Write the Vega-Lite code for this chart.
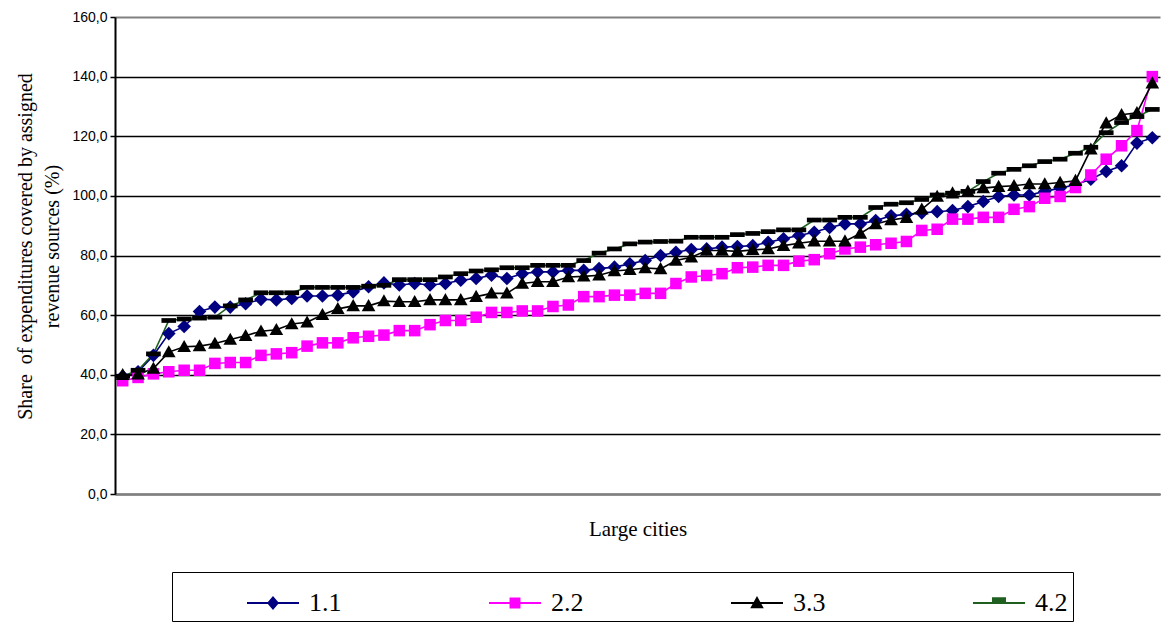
{
"$schema": "https://vega.github.io/schema/vega-lite/v6.json",
"width": 1045, "height": 477,
"autosize": {"type": "none"},
"padding": {"left": 115, "top": 17, "right": 1, "bottom": 129},
"background": "white",
"config": {"view": {"stroke": null}},
"data": {"values": [
{"c":1,"s":"1.1","v":39.5},{"c":2,"s":"1.1","v":41.0},{"c":3,"s":"1.1","v":46.5},{"c":4,"s":"1.1","v":53.8},{"c":5,"s":"1.1","v":56.2},{"c":6,"s":"1.1","v":61.2},{"c":7,"s":"1.1","v":62.7},{"c":8,"s":"1.1","v":62.7},{"c":9,"s":"1.1","v":63.8},{"c":10,"s":"1.1","v":65.3},
{"c":11,"s":"1.1","v":65.1},{"c":12,"s":"1.1","v":65.6},{"c":13,"s":"1.1","v":66.4},{"c":14,"s":"1.1","v":66.4},{"c":15,"s":"1.1","v":66.7},{"c":16,"s":"1.1","v":67.8},{"c":17,"s":"1.1","v":69.5},{"c":18,"s":"1.1","v":70.8},{"c":19,"s":"1.1","v":70.1},{"c":20,"s":"1.1","v":70.6},
{"c":21,"s":"1.1","v":70.1},{"c":22,"s":"1.1","v":70.6},{"c":23,"s":"1.1","v":71.7},{"c":24,"s":"1.1","v":72.3},{"c":25,"s":"1.1","v":73.4},{"c":26,"s":"1.1","v":72.3},{"c":27,"s":"1.1","v":73.9},{"c":28,"s":"1.1","v":74.5},{"c":29,"s":"1.1","v":74.5},{"c":30,"s":"1.1","v":75.0},
{"c":31,"s":"1.1","v":75.0},{"c":32,"s":"1.1","v":75.6},{"c":33,"s":"1.1","v":76.1},{"c":34,"s":"1.1","v":77.2},{"c":35,"s":"1.1","v":78.3},{"c":36,"s":"1.1","v":80.0},{"c":37,"s":"1.1","v":81.1},{"c":38,"s":"1.1","v":82.0},{"c":39,"s":"1.1","v":82.2},{"c":40,"s":"1.1","v":82.8},
{"c":41,"s":"1.1","v":83.0},{"c":42,"s":"1.1","v":83.3},{"c":43,"s":"1.1","v":84.4},{"c":44,"s":"1.1","v":85.6},{"c":45,"s":"1.1","v":86.7},{"c":46,"s":"1.1","v":87.8},{"c":47,"s":"1.1","v":89.4},{"c":48,"s":"1.1","v":90.6},{"c":49,"s":"1.1","v":90.6},{"c":50,"s":"1.1","v":91.7},
{"c":51,"s":"1.1","v":93.3},{"c":52,"s":"1.1","v":93.8},{"c":53,"s":"1.1","v":94.3},{"c":54,"s":"1.1","v":94.7},{"c":55,"s":"1.1","v":95.1},{"c":56,"s":"1.1","v":96.4},{"c":57,"s":"1.1","v":98.1},{"c":58,"s":"1.1","v":99.8},{"c":59,"s":"1.1","v":100.3},{"c":60,"s":"1.1","v":100.3},
{"c":61,"s":"1.1","v":101.5},{"c":62,"s":"1.1","v":102.6},{"c":63,"s":"1.1","v":103.7},{"c":64,"s":"1.1","v":105.6},{"c":65,"s":"1.1","v":108.2},{"c":66,"s":"1.1","v":110.1},{"c":67,"s":"1.1","v":117.7},{"c":68,"s":"1.1","v":119.5},
{"c":1,"s":"2.2","v":38.0},{"c":2,"s":"2.2","v":39.1},{"c":3,"s":"2.2","v":40.3},{"c":4,"s":"2.2","v":41.0},{"c":5,"s":"2.2","v":41.5},{"c":6,"s":"2.2","v":41.5},{"c":7,"s":"2.2","v":43.8},{"c":8,"s":"2.2","v":44.1},{"c":9,"s":"2.2","v":44.1},{"c":10,"s":"2.2","v":46.5},
{"c":11,"s":"2.2","v":47.0},{"c":12,"s":"2.2","v":47.4},{"c":13,"s":"2.2","v":49.6},{"c":14,"s":"2.2","v":50.7},{"c":15,"s":"2.2","v":50.7},{"c":16,"s":"2.2","v":52.4},{"c":17,"s":"2.2","v":52.9},{"c":18,"s":"2.2","v":53.3},{"c":19,"s":"2.2","v":54.8},{"c":20,"s":"2.2","v":54.8},
{"c":21,"s":"2.2","v":56.8},{"c":22,"s":"2.2","v":58.2},{"c":23,"s":"2.2","v":58.2},{"c":24,"s":"2.2","v":59.3},{"c":25,"s":"2.2","v":60.9},{"c":26,"s":"2.2","v":60.9},{"c":27,"s":"2.2","v":61.4},{"c":28,"s":"2.2","v":61.4},{"c":29,"s":"2.2","v":62.9},{"c":30,"s":"2.2","v":63.4},
{"c":31,"s":"2.2","v":66.2},{"c":32,"s":"2.2","v":66.2},{"c":33,"s":"2.2","v":66.7},{"c":34,"s":"2.2","v":66.7},{"c":35,"s":"2.2","v":67.3},{"c":36,"s":"2.2","v":67.3},{"c":37,"s":"2.2","v":70.6},{"c":38,"s":"2.2","v":72.8},{"c":39,"s":"2.2","v":73.3},{"c":40,"s":"2.2","v":73.9},
{"c":41,"s":"2.2","v":75.9},{"c":42,"s":"2.2","v":76.1},{"c":43,"s":"2.2","v":76.7},{"c":44,"s":"2.2","v":76.7},{"c":45,"s":"2.2","v":78.1},{"c":46,"s":"2.2","v":78.6},{"c":47,"s":"2.2","v":80.6},{"c":48,"s":"2.2","v":82.2},{"c":49,"s":"2.2","v":82.8},{"c":50,"s":"2.2","v":83.6},
{"c":51,"s":"2.2","v":84.1},{"c":52,"s":"2.2","v":84.7},{"c":53,"s":"2.2","v":88.4},{"c":54,"s":"2.2","v":88.8},{"c":55,"s":"2.2","v":92.2},{"c":56,"s":"2.2","v":92.2},{"c":57,"s":"2.2","v":92.8},{"c":58,"s":"2.2","v":92.8},{"c":59,"s":"2.2","v":95.5},{"c":60,"s":"2.2","v":96.4},
{"c":61,"s":"2.2","v":99.2},{"c":62,"s":"2.2","v":99.8},{"c":63,"s":"2.2","v":102.8},{"c":64,"s":"2.2","v":107.0},{"c":65,"s":"2.2","v":112.3},{"c":66,"s":"2.2","v":116.8},{"c":67,"s":"2.2","v":121.9},{"c":68,"s":"2.2","v":140.0},
{"c":1,"s":"3.3","v":40.0},{"c":2,"s":"3.3","v":40.2},{"c":3,"s":"3.3","v":42.1},{"c":4,"s":"3.3","v":47.6},{"c":5,"s":"3.3","v":49.4},{"c":6,"s":"3.3","v":49.6},{"c":7,"s":"3.3","v":50.5},{"c":8,"s":"3.3","v":51.8},{"c":9,"s":"3.3","v":53.1},{"c":10,"s":"3.3","v":54.6},
{"c":11,"s":"3.3","v":55.1},{"c":12,"s":"3.3","v":57.0},{"c":13,"s":"3.3","v":57.6},{"c":14,"s":"3.3","v":60.1},{"c":15,"s":"3.3","v":62.1},{"c":16,"s":"3.3","v":63.1},{"c":17,"s":"3.3","v":63.1},{"c":18,"s":"3.3","v":64.7},{"c":19,"s":"3.3","v":64.5},{"c":20,"s":"3.3","v":64.5},
{"c":21,"s":"3.3","v":65.1},{"c":22,"s":"3.3","v":65.1},{"c":23,"s":"3.3","v":65.1},{"c":24,"s":"3.3","v":66.2},{"c":25,"s":"3.3","v":67.3},{"c":26,"s":"3.3","v":67.3},{"c":27,"s":"3.3","v":70.6},{"c":28,"s":"3.3","v":71.2},{"c":29,"s":"3.3","v":71.2},{"c":30,"s":"3.3","v":72.8},
{"c":31,"s":"3.3","v":73.0},{"c":32,"s":"3.3","v":73.4},{"c":33,"s":"3.3","v":74.8},{"c":34,"s":"3.3","v":75.2},{"c":35,"s":"3.3","v":75.8},{"c":36,"s":"3.3","v":75.5},{"c":37,"s":"3.3","v":78.3},{"c":38,"s":"3.3","v":79.4},{"c":39,"s":"3.3","v":81.7},{"c":40,"s":"3.3","v":81.7},
{"c":41,"s":"3.3","v":81.4},{"c":42,"s":"3.3","v":81.9},{"c":43,"s":"3.3","v":82.2},{"c":44,"s":"3.3","v":83.3},{"c":45,"s":"3.3","v":84.1},{"c":46,"s":"3.3","v":84.8},{"c":47,"s":"3.3","v":84.8},{"c":48,"s":"3.3","v":84.8},{"c":49,"s":"3.3","v":87.4},{"c":50,"s":"3.3","v":90.6},
{"c":51,"s":"3.3","v":91.9},{"c":52,"s":"3.3","v":92.7},{"c":53,"s":"3.3","v":95.5},{"c":54,"s":"3.3","v":99.8},{"c":55,"s":"3.3","v":100.9},{"c":56,"s":"3.3","v":101.5},{"c":57,"s":"3.3","v":102.6},{"c":58,"s":"3.3","v":103.1},{"c":59,"s":"3.3","v":103.4},{"c":60,"s":"3.3","v":104.0},
{"c":61,"s":"3.3","v":104.0},{"c":62,"s":"3.3","v":104.5},{"c":63,"s":"3.3","v":105.1},{"c":64,"s":"3.3","v":115.6},{"c":65,"s":"3.3","v":124.4},{"c":66,"s":"3.3","v":127.2},{"c":67,"s":"3.3","v":127.9},{"c":68,"s":"3.3","v":137.8},
{"c":1,"s":"4.2","v":39.5},{"c":2,"s":"4.2","v":41.5},{"c":3,"s":"4.2","v":47.0},{"c":4,"s":"4.2","v":58.2},{"c":5,"s":"4.2","v":58.7},{"c":6,"s":"4.2","v":59.0},{"c":7,"s":"4.2","v":59.3},{"c":8,"s":"4.2","v":63.1},{"c":9,"s":"4.2","v":65.1},{"c":10,"s":"4.2","v":67.5},
{"c":11,"s":"4.2","v":67.5},{"c":12,"s":"4.2","v":67.5},{"c":13,"s":"4.2","v":69.3},{"c":14,"s":"4.2","v":69.3},{"c":15,"s":"4.2","v":69.3},{"c":16,"s":"4.2","v":69.3},{"c":17,"s":"4.2","v":69.7},{"c":18,"s":"4.2","v":70.0},{"c":19,"s":"4.2","v":71.9},{"c":20,"s":"4.2","v":71.9},
{"c":21,"s":"4.2","v":71.9},{"c":22,"s":"4.2","v":72.8},{"c":23,"s":"4.2","v":73.9},{"c":24,"s":"4.2","v":74.8},{"c":25,"s":"4.2","v":75.2},{"c":26,"s":"4.2","v":75.9},{"c":27,"s":"4.2","v":75.9},{"c":28,"s":"4.2","v":76.7},{"c":29,"s":"4.2","v":76.7},{"c":30,"s":"4.2","v":76.7},
{"c":31,"s":"4.2","v":78.3},{"c":32,"s":"4.2","v":80.8},{"c":33,"s":"4.2","v":82.2},{"c":34,"s":"4.2","v":83.9},{"c":35,"s":"4.2","v":84.5},{"c":36,"s":"4.2","v":84.7},{"c":37,"s":"4.2","v":84.8},{"c":38,"s":"4.2","v":86.1},{"c":39,"s":"4.2","v":86.1},{"c":40,"s":"4.2","v":86.1},
{"c":41,"s":"4.2","v":87.0},{"c":42,"s":"4.2","v":87.4},{"c":43,"s":"4.2","v":88.0},{"c":44,"s":"4.2","v":88.6},{"c":45,"s":"4.2","v":88.6},{"c":46,"s":"4.2","v":91.9},{"c":47,"s":"4.2","v":91.9},{"c":48,"s":"4.2","v":92.8},{"c":49,"s":"4.2","v":92.8},{"c":50,"s":"4.2","v":96.1},
{"c":51,"s":"4.2","v":97.2},{"c":52,"s":"4.2","v":97.7},{"c":53,"s":"4.2","v":98.8},{"c":54,"s":"4.2","v":100.3},{"c":55,"s":"4.2","v":100.9},{"c":56,"s":"4.2","v":101.5},{"c":57,"s":"4.2","v":104.8},{"c":58,"s":"4.2","v":107.6},{"c":59,"s":"4.2","v":108.9},{"c":60,"s":"4.2","v":110.1},
{"c":61,"s":"4.2","v":111.5},{"c":62,"s":"4.2","v":112.3},{"c":63,"s":"4.2","v":114.3},{"c":64,"s":"4.2","v":116.3},{"c":65,"s":"4.2","v":121.2},{"c":66,"s":"4.2","v":124.6},{"c":67,"s":"4.2","v":126.6},{"c":68,"s":"4.2","v":129.0}
]},
"encoding": {
  "x": {"field": "c", "type": "ordinal", "scale": {"type": "point", "padding": 0.5},
        "axis": {"labels": false, "ticks": false, "grid": false, "domainColor": "#808080", "domainWidth": 2.5,
                 "title": "Large cities", "titleFont": "Liberation Serif", "titleFontSize": 21, "titleFontWeight": "normal",
                 "titleColor": "black", "titlePadding": 24}},
  "y": {"field": "v", "type": "quantitative", "scale": {"domain": [0, 160], "nice": false, "zero": true},
        "axis": {"values": [0, 20, 40, 60, 80, 100, 120, 140, 160],
                 "labelExpr": "replace(format(datum.value, '.1f'), '.', ',')",
                 "labelFont": "Liberation Sans", "labelFontSize": 14, "labelColor": "black", "labelPadding": 3,
                 "tickSize": 5, "tickColor": "black", "tickWidth": 1.5,
                 "domainColor": "black", "domainWidth": 2,
                 "grid": true,
                 "gridColor": {"condition": {"test": "datum.value == 160", "value": "#808080"}, "value": "black"},
                 "gridWidth": {"condition": {"test": "datum.value == 160", "value": 2}, "value": 1.3},
                 "gridOpacity": 1,
                 "title": ["Share\u00a0 of expenditures covered by assigned", "revenue sources (%)"],
                 "titleFont": "Liberation Serif", "titleFontSize": 20, "titleFontWeight": "normal", "titleColor": "black",
                 "titleLineHeight": 27, "titlePadding": 9, "titleY": 229}}
},
"layer": [
  {"mark": {"type": "line", "strokeWidth": 1.6},
   "encoding": {"color": {"field": "s", "type": "nominal",
        "scale": {"domain": ["1.1", "2.2", "3.3", "4.2"], "range": ["#000080", "#FF00FF", "#000000", "#1f5f1f"]},
        "legend": null}}},
  {"mark": {"type": "point", "filled": true, "size": 110, "opacity": 1, "strokeWidth": 0},
   "encoding": {
     "color": {"field": "s", "type": "nominal",
        "scale": {"domain": ["1.1", "2.2", "3.3", "4.2"], "range": ["#000080", "#FF00FF", "#000000", "#000000"]},
        "legend": null},
     "shape": {"field": "s", "type": "nominal",
        "scale": {"domain": ["1.1", "2.2", "3.3", "4.2"],
                  "range": ["M0,-1.3L1.3,0L0,1.3L-1.3,0Z", "M-1.1,-1.1H1.1V1.1H-1.1Z", "M0,-1.3L1.3,1L-1.3,1Z", "M-1.4,-0.45H1.4V0.45H-1.4Z"]},
        "legend": null}}},
  {"transform": [{"filter": "false"}],
   "mark": {"type": "point", "filled": true, "opacity": 1, "strokeWidth": 0},
   "encoding": {
     "color": {"field": "s", "type": "nominal", "title": "\u00a0",
        "scale": {"domain": ["1.1", "2.2", "3.3", "4.2"], "range": ["#000080", "#FF00FF", "#000000", "#1f5f1f"]},
        "legend": {"orient": "none", "legendX": 57, "legendY": 555, "direction": "horizontal", "columns": 4, "columnPadding": 147,
                   "symbolSize": 2704, "symbolStrokeWidth": 0, "symbolOpacity": 1,
                   "labelFont": "Liberation Serif", "labelFontSize": 26, "labelColor": "black", "labelOffset": 10, "labelLimit": 0,
                   "labelExpr": "datum.label == '4.2' ? '4.2\u00a0\u00a0\u00a0\u00a0\u00a0\u00a0\u00a0\u00a0\u00a0\u00a0\u00a0\u00a0\u00a0' : datum.label",
                   "strokeColor": "black", "padding": 5,
                   "titleOrient": "left", "titleFontSize": 10, "titlePadding": 70}},
     "shape": {"field": "s", "type": "nominal", "title": "\u00a0",
        "scale": {"domain": ["1.1", "2.2", "3.3", "4.2"],
                  "range": ["M-1,-0.04H1V0.04H-1Z M0,-0.27L0.23,0L0,0.27L-0.23,0Z",
                            "M-1,-0.04H1V0.04H-1Z M-0.21,-0.21H0.21V0.21H-0.21Z",
                            "M-1,-0.04H1V0.04H-1Z M0,-0.27L0.26,0.2L-0.26,0.2Z",
                            "M-1,-0.04H1V0.04H-1Z M-0.27,-0.22H0.27V-0.02H-0.27Z"]},
        "legend": {"orient": "none", "legendX": 57, "legendY": 555, "direction": "horizontal", "columns": 4, "columnPadding": 147,
                   "symbolSize": 2704, "symbolStrokeWidth": 0, "symbolOpacity": 1,
                   "labelFont": "Liberation Serif", "labelFontSize": 26, "labelColor": "black", "labelOffset": 10, "labelLimit": 0,
                   "labelExpr": "datum.label == '4.2' ? '4.2\u00a0\u00a0\u00a0\u00a0\u00a0\u00a0\u00a0\u00a0\u00a0\u00a0\u00a0\u00a0\u00a0' : datum.label",
                   "strokeColor": "black", "padding": 5,
                   "titleOrient": "left", "titleFontSize": 10, "titlePadding": 70}}}}
],
"resolve": {"scale": {"color": "independent", "shape": "independent"}}
}
